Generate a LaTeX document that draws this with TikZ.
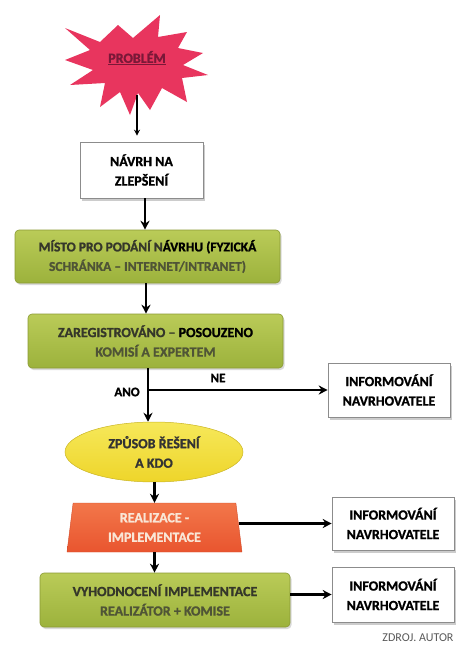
\documentclass[tikz,border=0pt]{standalone}
\usepackage{fontspec}
\setmainfont{Carlito}[BoldFeatures={FakeBold=1.2}]
\usetikzlibrary{shapes.geometric,shadows,shadings,arrows.meta,calc}
\definecolor{burst}{HTML}{E8355E}
\definecolor{burstdark}{HTML}{7A1838}
\definecolor{gtop}{HTML}{BACB58}
\definecolor{gbot}{HTML}{9CB23C}
\definecolor{gline}{HTML}{8A9A34}
\definecolor{gtxt}{HTML}{35372A}
\definecolor{gtxtl}{HTML}{4F5436}
\definecolor{ytop}{HTML}{F6E85A}
\definecolor{ybot}{HTML}{EED52A}
\definecolor{otop}{HTML}{F2774A}
\definecolor{obot}{HTML}{E9552F}
\definecolor{otxt}{HTML}{F9E6D6}
\begin{document}
\begin{tikzpicture}[x=1pt,y=-1pt,
  txt/.style={font=\fontsize{14}{19.5}\selectfont\bfseries, align=center},
  whitebox/.style={txt, draw=black!45, line width=0.6pt, fill=white,
    drop shadow={shadow xshift=2pt, shadow yshift=-2.5pt, opacity=0.4}},
  greenbox/.style={txt, text=gtxt, draw=gline, line width=0.6pt, rounded corners=4pt,
    top color=gtop, bottom color=gbot,
    drop shadow={shadow xshift=1.5pt, shadow yshift=-2pt, opacity=0.3}},
  arr/.style={line width=2.2pt, -{Stealth[length=9pt,width=9pt]}},
  lbl/.style={font=\fontsize{13}{15}\selectfont\bfseries}
]
\useasboundingbox (0,0) rectangle (459,646);

% starburst
\fill[burst] (65,28) -- (100,42) -- (118,25) -- (133,38) -- (160,15) -- (158,37)
  -- (187,32) -- (178,48) -- (203,53) -- (183,65) -- (208,75) -- (182,78)
  -- (187,102) -- (162,88) -- (150,110) -- (138,93) -- (130,115) -- (120,92)
  -- (100,107) -- (105,83) -- (70,85) -- (93,70) -- (65,60) -- (90,50) -- cycle;
\node[txt, text=burstdark] (prob) at (137,58) {\underline{PROBLÉM}};
\coordinate (sb) at (137,95);

% main column
\node[whitebox, minimum width=123, minimum height=56] (nav) at (141.5,170) {NÁVRH NA\\ZLEPŠENÍ};
\node[greenbox, font=\fontsize{13.5}{19.5}\selectfont\bfseries, minimum width=265, minimum height=53] (g1) at (147.5,256.5)
  {MÍSTO PRO PODÁNÍ N{\color{black}ÁVRHU (FYZICKÁ}\\{\color{gtxtl}SCHRÁNKA – INTERNET/INTRANET)}};
\node[greenbox, minimum width=255, minimum height=54] (g2) at (155.5,341)
  {ZAREGISTROVÁNO – {\color{black}POSOUZENO}\\{\color{gtxtl}KOMISÍ A EXPERTEM}};
\node[txt, text=black!80, ellipse, draw=ybot!85!black, line width=0.5pt,
  top color=ytop, bottom color=ybot, minimum width=178, minimum height=60,
  inner sep=0pt] (ell) at (154,452) {ZPŮSOB ŘEŠENÍ\\A KDO};
\node[txt, text=otxt, trapezium, trapezium left angle=78, trapezium right angle=78,
  trapezium stretches body, draw=obot!90!black, line width=0.4pt,
  top color=otop, bottom color=obot, minimum width=175, minimum height=49,
  inner sep=0pt] (trap) at (154.5,527.5) {REALIZACE -\\IMPLEMENTACE};
\node[greenbox, minimum width=250, minimum height=54] (g3) at (165,600)
  {VYHODNOCENÍ IMPLEMENTACE\\{\color{gtxtl}REALIZÁTOR + KOMISE}};

% info boxes
\node[whitebox, minimum width=122, minimum height=54] (i1) at (389,390) {INFORMOVÁNÍ\\NAVRHOVATELE};
\node[whitebox, minimum width=122, minimum height=53] (i2) at (393,523.5) {INFORMOVÁNÍ\\NAVRHOVATELE};
\node[whitebox, minimum width=122, minimum height=55] (i3) at (393,594.5) {INFORMOVÁNÍ\\NAVRHOVATELE};

% connectors
\draw[line width=1.2pt, -{Stealth[length=6pt,width=6pt]}, shorten >=6pt] (sb) -- (sb |- nav.north);
\coordinate (x1) at (145,0);
\coordinate (x2) at (146,0);
\draw[arr] (nav.south -| x1) -- (g1.north -| x1);
\draw[arr] (g1.south -| x2) -- (g2.north -| x2);
\coordinate (j) at (148,390);
\draw[line width=2.2pt] (g2.south -| j) -- (j);
\draw[arr] (j) -- (j |- ell.north);
\draw[arr] (j) -- (j -| i1.west);
\node[lbl] (ano) at (127,392) {ANO};
\node[lbl] (ne) at (218,378) {NE};
\draw[arr] (ell.south -| trap.north) -- (trap.north);
\draw[arr] (trap.south) -- (g3.north -| trap.south);
\draw[arr] (trap.east |- i2.west) -- (i2.west);
\draw[arr] (g3.east |- i3.west) -- (i3.west);

\node[font=\fontsize{12}{14}\selectfont, text=black!65, anchor=east] (src) at (457,638) {ZDROJ. AUTOR};
\end{tikzpicture}
\end{document}
